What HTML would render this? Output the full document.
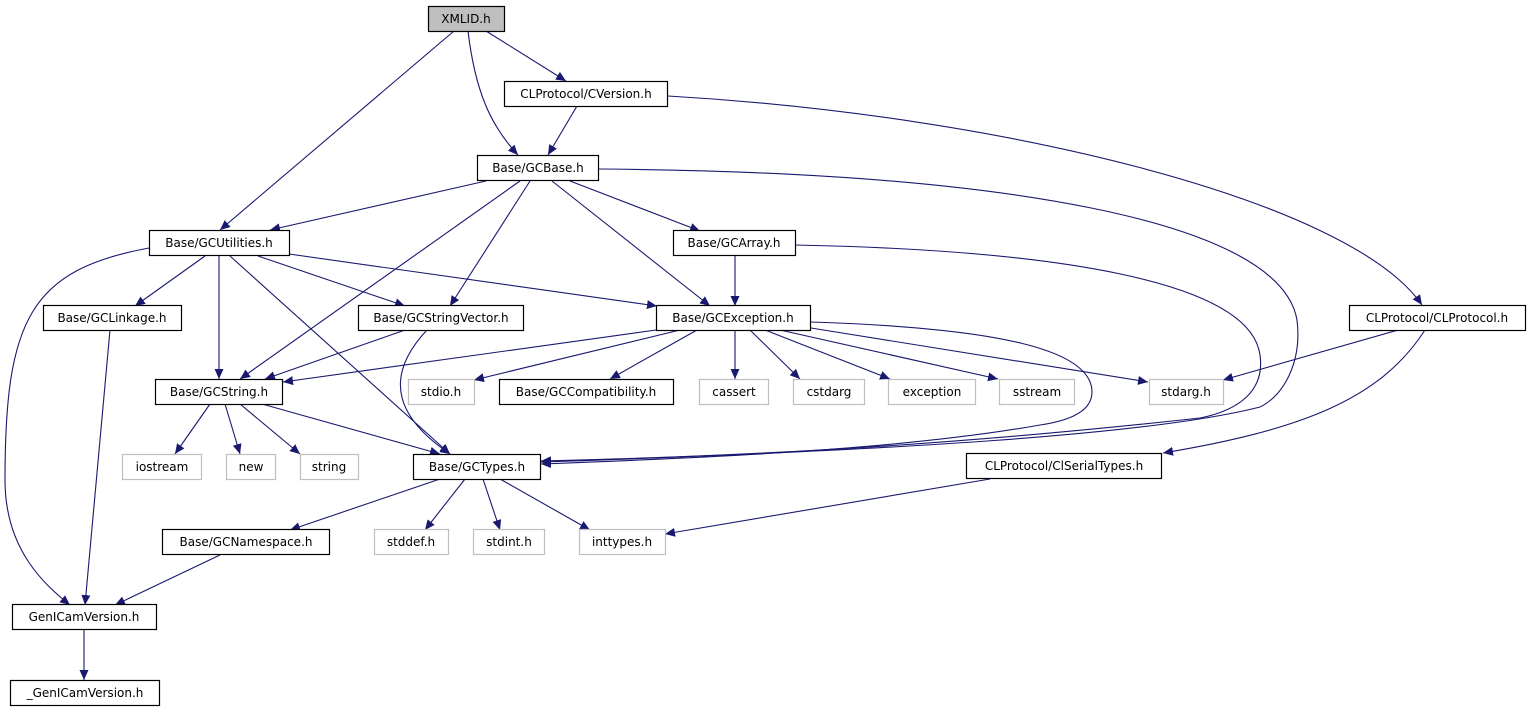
<!DOCTYPE html>
<html><head><meta charset="utf-8"><style>
html,body{margin:0;padding:0;background:#fff;}
svg text{font-family:"DejaVu Sans","Liberation Sans",sans-serif;font-size:12px;fill:#000;}
</style></head><body>
<svg width="1530" height="709" viewBox="0 0 1530 709" xmlns="http://www.w3.org/2000/svg">
<defs>
<marker id="a" markerUnits="userSpaceOnUse" markerWidth="11" markerHeight="9" refX="10" refY="4.5" orient="auto">
<path d="M0,0 L10,4.5 L0,9 Z" fill="#191970"/>
</marker>
</defs>
<g fill="none" stroke="#191970" stroke-width="1.1" marker-end="url(#a)">
<path d="M454,31 L220,230"/>
<path d="M468,31 C475,90 490,125 518,155"/>
<path d="M486,31 L566,81"/>
<path d="M577,106 L548,155"/>
<path d="M668,96 C1000,115 1350,200 1422,305"/>
<path d="M486,181 L270,230"/>
<path d="M520,181 L240,379"/>
<path d="M530,181 L450,306"/>
<path d="M552,181 L710,306"/>
<path d="M570,181 L700,231"/>
<path d="M598,169 C1000,172 1280,220 1297,320 C1302,360 1285,395 1260,407 C1150,435 900,450 541,462"/>
<path d="M149,248 C30,270 5,320 5,480 C5,550 45,585 70,605"/>
<path d="M205,256 L135,306"/>
<path d="M219,256 L219,379"/>
<path d="M258,256 L405,306"/>
<path d="M289,254 L657,306"/>
<path d="M230,256 L450,454"/>
<path d="M735,256 L735,306"/>
<path d="M795,245 C1050,250 1250,280 1260,355 C1265,390 1240,410 1200,418 C1000,440 800,455 541,461"/>
<path d="M110,330 L85,605"/>
<path d="M405,330 L265,379"/>
<path d="M427,330 C380,380 400,420 450,454"/>
<path d="M656,330 L283,382"/>
<path d="M680,330 L474,380"/>
<path d="M697,330 L610,379"/>
<path d="M735,330 L735,379"/>
<path d="M750,330 L800,379"/>
<path d="M765,330 L890,379"/>
<path d="M780,330 L998,379"/>
<path d="M811,328 L1148,382"/>
<path d="M811,322 C1000,328 1092,350 1092,392 C1092,415 1060,422 1040,425 C900,450 700,458 541,464"/>
<path d="M1398,330 L1223,380"/>
<path d="M1425,330 C1380,400 1300,430 1163,453"/>
<path d="M210,404 L175,454"/>
<path d="M225,404 L240,454"/>
<path d="M240,404 L300,454"/>
<path d="M262,404 L440,454"/>
<path d="M440,479 L290,530"/>
<path d="M465,479 L425,530"/>
<path d="M483,479 L500,530"/>
<path d="M500,479 L590,530"/>
<path d="M990,479 L665,534"/>
<path d="M220,555 L115,605"/>
<path d="M84,630 L84,680"/>
</g>
<g stroke-width="1.2">
<rect x="428.5" y="6.5" width="76" height="25" fill="#bfbfbf" stroke="#000"/>
<rect x="504.5" y="81.5" width="163" height="25" fill="#fff" stroke="#000"/>
<rect x="477.5" y="155.5" width="121" height="25" fill="#fff" stroke="#000"/>
<rect x="149.5" y="230.5" width="140" height="25" fill="#fff" stroke="#000"/>
<rect x="673.5" y="230.5" width="122" height="25" fill="#fff" stroke="#000"/>
<rect x="43.5" y="305.5" width="138" height="25" fill="#fff" stroke="#000"/>
<rect x="358.5" y="305.5" width="165" height="25" fill="#fff" stroke="#000"/>
<rect x="656.5" y="305.5" width="154" height="25" fill="#fff" stroke="#000"/>
<rect x="1349.5" y="305.5" width="176" height="25" fill="#fff" stroke="#000"/>
<rect x="155.5" y="379.5" width="127" height="25" fill="#fff" stroke="#000"/>
<rect x="408.5" y="379.5" width="66" height="25" fill="#fff" stroke="#bfbfbf"/>
<rect x="499.5" y="379.5" width="174" height="25" fill="#fff" stroke="#000"/>
<rect x="699.5" y="379.5" width="69" height="25" fill="#fff" stroke="#bfbfbf"/>
<rect x="793.5" y="379.5" width="71" height="25" fill="#fff" stroke="#bfbfbf"/>
<rect x="888.5" y="379.5" width="87" height="25" fill="#fff" stroke="#bfbfbf"/>
<rect x="999.5" y="379.5" width="75" height="25" fill="#fff" stroke="#bfbfbf"/>
<rect x="1149.5" y="379.5" width="74" height="25" fill="#fff" stroke="#bfbfbf"/>
<rect x="122.5" y="454.5" width="79" height="25" fill="#fff" stroke="#bfbfbf"/>
<rect x="226.5" y="454.5" width="49" height="25" fill="#fff" stroke="#bfbfbf"/>
<rect x="300.5" y="454.5" width="58" height="25" fill="#fff" stroke="#bfbfbf"/>
<rect x="413.5" y="454.5" width="127" height="25" fill="#fff" stroke="#000"/>
<rect x="966.5" y="453.5" width="195" height="25" fill="#fff" stroke="#000"/>
<rect x="162.5" y="529.5" width="167" height="25" fill="#fff" stroke="#000"/>
<rect x="374.5" y="529.5" width="74" height="25" fill="#fff" stroke="#bfbfbf"/>
<rect x="473.5" y="529.5" width="71" height="25" fill="#fff" stroke="#bfbfbf"/>
<rect x="579.5" y="529.5" width="86" height="25" fill="#fff" stroke="#bfbfbf"/>
<rect x="12.5" y="604.5" width="144" height="25" fill="#fff" stroke="#000"/>
<rect x="10.5" y="680.5" width="149" height="25" fill="#fff" stroke="#000"/>
</g>
<g text-anchor="middle">
<text x="466" y="23">XMLID.h</text>
<text x="586" y="98">CLProtocol/CVersion.h</text>
<text x="538" y="172">Base/GCBase.h</text>
<text x="219" y="247">Base/GCUtilities.h</text>
<text x="734" y="247">Base/GCArray.h</text>
<text x="112" y="322">Base/GCLinkage.h</text>
<text x="441" y="322">Base/GCStringVector.h</text>
<text x="733" y="322">Base/GCException.h</text>
<text x="1437" y="322">CLProtocol/CLProtocol.h</text>
<text x="219" y="396">Base/GCString.h</text>
<text x="441" y="396">stdio.h</text>
<text x="586" y="396">Base/GCCompatibility.h</text>
<text x="734" y="396">cassert</text>
<text x="829" y="396">cstdarg</text>
<text x="932" y="396">exception</text>
<text x="1037" y="396">sstream</text>
<text x="1186" y="396">stdarg.h</text>
<text x="162" y="471">iostream</text>
<text x="251" y="471">new</text>
<text x="329" y="471">string</text>
<text x="477" y="471">Base/GCTypes.h</text>
<text x="1064" y="470">CLProtocol/ClSerialTypes.h</text>
<text x="246" y="546">Base/GCNamespace.h</text>
<text x="411" y="546">stddef.h</text>
<text x="509" y="546">stdint.h</text>
<text x="622" y="546">inttypes.h</text>
<text x="84" y="621">GenICamVersion.h</text>
<text x="85" y="697">_GenICamVersion.h</text>
</g>
</svg>
</body></html>
